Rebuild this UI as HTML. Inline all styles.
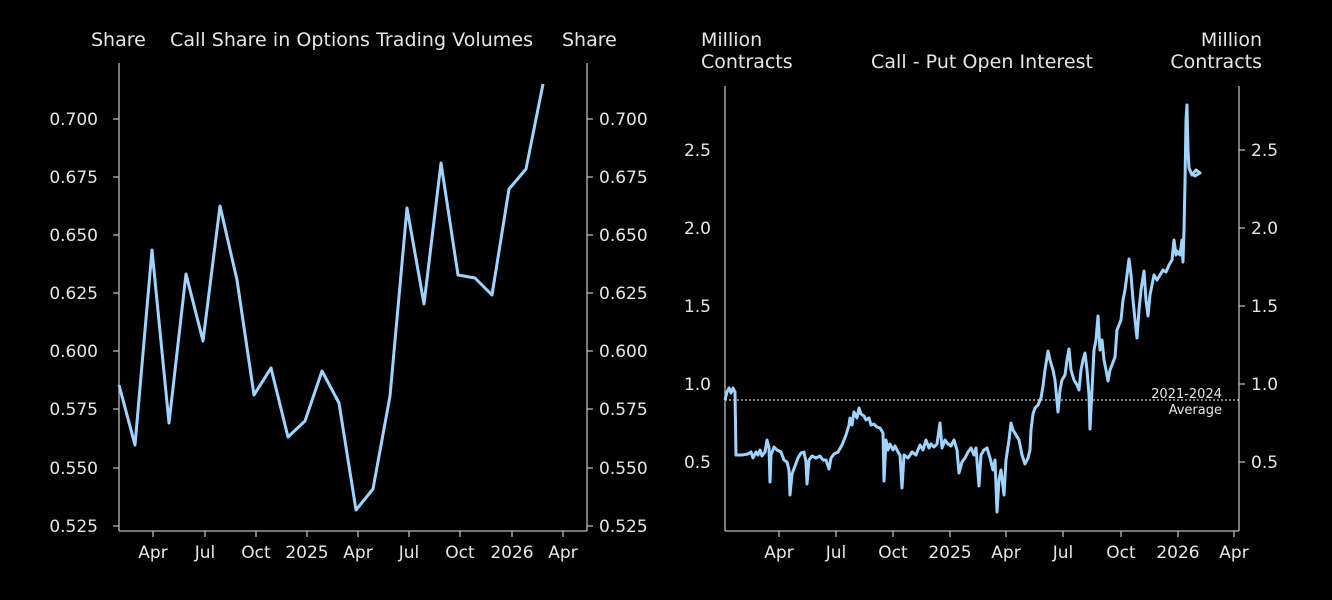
<!DOCTYPE html>
<html><head><meta charset="utf-8"><style>
html,body{margin:0;padding:0;background:#000;}
svg{display:block;}
text{font-family:"DejaVu Sans","Liberation Sans",sans-serif;fill:#e6e6e6;font-size:17px;}
.t{font-size:19px;}
</style></head><body>
<svg width="1332" height="600" viewBox="0 0 1332 600" xmlns="http://www.w3.org/2000/svg">
<rect width="1332" height="600" fill="#000"/>
<g stroke="#bbb" stroke-width="1.3" fill="none">
<line x1="119" y1="63" x2="119" y2="531"/>
<line x1="587" y1="63" x2="587" y2="531"/>
<line x1="119" y1="531" x2="587" y2="531"/>
<path d="M113 119H119M113 177H119M113 235H119M113 293H119M113 351H119M113 409H119M113 468H119M113 526H119"/>
<path d="M587 119H593M587 177H593M587 235H593M587 293H593M587 351H593M587 409H593M587 468H593M587 526H593"/>
<path d="M153 531V537M205 531V537M256 531V537M307 531V537M358 531V537M409 531V537M460 531V537M512 531V537M563 531V537"/>
<line x1="725" y1="86" x2="725" y2="531"/>
<line x1="1239" y1="86" x2="1239" y2="531"/>
<line x1="725" y1="531" x2="1239" y2="531"/>
<path d="M1239 150H1245M1239 228H1245M1239 306H1245M1239 384H1245M1239 462H1245"/>
<path d="M779 531V537M836 531V537M893 531V537M950 531V537M1006 531V537M1063 531V537M1121 531V537M1178 531V537M1234 531V537"/>
</g>
<g text-anchor="end">
<text x="98" y="125">0.700</text><text x="98" y="183">0.675</text><text x="98" y="241">0.650</text><text x="98" y="299">0.625</text><text x="98" y="357">0.600</text><text x="98" y="415">0.575</text><text x="98" y="474">0.550</text><text x="98" y="532">0.525</text>
<text x="711" y="156">2.5</text><text x="711" y="234">2.0</text><text x="711" y="312">1.5</text><text x="711" y="390">1.0</text><text x="711" y="468">0.5</text>
</g>
<g text-anchor="start">
<text x="599" y="125">0.700</text><text x="599" y="183">0.675</text><text x="599" y="241">0.650</text><text x="599" y="299">0.625</text><text x="599" y="357">0.600</text><text x="599" y="415">0.575</text><text x="599" y="474">0.550</text><text x="599" y="532">0.525</text>
<text x="1251" y="156">2.5</text><text x="1251" y="234">2.0</text><text x="1251" y="312">1.5</text><text x="1251" y="390">1.0</text><text x="1251" y="468">0.5</text>
</g>
<g text-anchor="middle">
<text x="153" y="558">Apr</text><text x="205" y="558">Jul</text><text x="256" y="558">Oct</text><text x="307" y="558">2025</text><text x="358" y="558">Apr</text><text x="409" y="558">Jul</text><text x="460" y="558">Oct</text><text x="512" y="558">2026</text><text x="563" y="558">Apr</text>
<text x="779" y="558">Apr</text><text x="836" y="558">Jul</text><text x="893" y="558">Oct</text><text x="950" y="558">2025</text><text x="1006" y="558">Apr</text><text x="1063" y="558">Jul</text><text x="1121" y="558">Oct</text><text x="1178" y="558">2026</text><text x="1234" y="558">Apr</text>
</g>
<text class="t" x="91" y="46">Share</text>
<text class="t" x="170" y="46" textLength="363">Call Share in Options Trading Volumes</text>
<text class="t" x="562" y="46">Share</text>
<text class="t" x="701" y="46">Million</text>
<text class="t" x="701" y="68">Contracts</text>
<text class="t" x="871" y="68" textLength="222">Call - Put Open Interest</text>
<text class="t" x="1262" y="46" text-anchor="end">Million</text>
<text class="t" x="1262" y="68" text-anchor="end">Contracts</text>
<line x1="725" y1="400" x2="1239" y2="400" stroke="#ccc" stroke-width="1.2" stroke-dasharray="2,2"/>
<text x="1222" y="398" text-anchor="end" style="font-size:13px">2021-2024</text>
<text x="1222" y="414" text-anchor="end" style="font-size:13px">Average</text>
<polyline fill="none" stroke="#9fd4ff" stroke-width="3" stroke-linejoin="round" points="119,385 135,445 152,250 169,423 186,274 203,341 220,206 237,280 254,395 271,368 288,437 305,421 322,371 339,403 356,510 373,489 390,396 407,208 424,304 441,163 458,275 475,278 492,295 509,189 526,169 543,84"/>
<polyline fill="none" stroke="#9fd4ff" stroke-width="3" stroke-linejoin="round" points="725,400 727,392 729,388 731,393 733,388 735,392 736,455 742,455 748,454 751,452 753,458 756,452 758,455 760,450 762,456 765,452 767,440 769,448 770,482 771,455 774,447 777,450 781,452 784,460 787,462 789,470 790,495 792,474 795,466 798,458 801,453 804,452 806,462 807,484 809,460 812,456 816,458 820,456 823,460 826,460 829,469 831,458 834,454 838,452 842,445 846,435 849,425 850,418 852,425 854,412 857,418 859,408 861,414 864,416 866,420 869,418 871,425 874,424 877,427 880,428 883,433 884,481 886,440 888,450 890,444 893,450 895,446 898,452 900,455 902,488 904,455 908,458 912,452 916,455 920,445 923,450 926,440 929,448 931,444 934,447 937,444 940,423 942,448 945,440 948,444 951,446 954,440 957,450 959,473 962,462 965,458 968,452 971,448 974,455 976,448 979,486 981,455 984,450 987,448 990,458 993,470 995,460 997,512 999,480 1001,470 1004,495 1006,460 1009,440 1011,423 1013,430 1016,435 1019,440 1022,455 1025,464 1028,458 1030,450 1031,430 1033,414 1035,408 1038,405 1041,398 1043,386 1045,370 1048,351 1050,360 1053,370 1055,380 1058,412 1060,390 1062,380 1065,375 1067,360 1069,349 1071,370 1074,380 1077,385 1079,390 1081,370 1083,360 1085,353 1087,370 1089,395 1090,429 1092,390 1094,350 1096,340 1098,316 1100,350 1102,340 1104,360 1106,370 1108,381 1110,370 1112,365 1115,357 1117,330 1119,325 1121,320 1123,300 1125,290 1127,275 1129,259 1131,275 1133,300 1135,320 1137,338 1139,310 1141,290 1144,271 1146,300 1148,316 1150,295 1152,285 1154,275 1157,280 1160,275 1163,270 1166,272 1169,265 1172,260 1174,240 1176,255 1177,251 1180,255 1182,240 1183,262 1184,230 1185,183 1186,120 1187,105 1188,150 1189,168 1192,175 1196,170 1200,173 1195,176 1190,172"/>
</svg>
</body></html>
